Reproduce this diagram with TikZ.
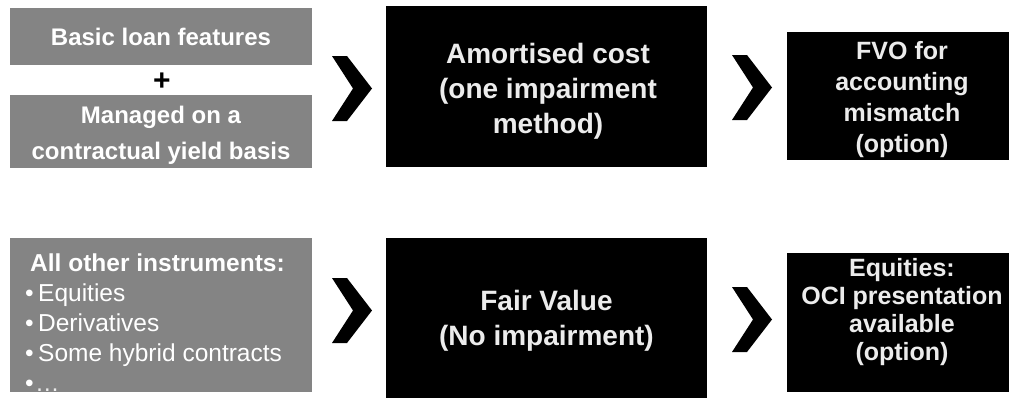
\documentclass[tikz,border=0pt]{standalone}
\usepackage{fontspec}
\setmainfont{Liberation Sans}
\definecolor{boxgray}{RGB}{132,132,132}
\definecolor{boxtext}{RGB}{236,236,236}
\tikzset{
  graybox/.style={fill=boxgray, draw=none, inner sep=0pt, anchor=center},
  blackbox/.style={fill=black, draw=none, inner sep=0pt, anchor=center},
  graytext/.style={text=white, inner sep=0pt, align=center, font=\bfseries\fontsize{24}{36}\selectfont},
  listtext/.style={text=white, inner sep=0pt, align=left, anchor=west, font=\fontsize{24.5}{30}\selectfont},
  midtext/.style={text=boxtext, inner sep=0pt, align=center, font=\bfseries\fontsize{28}{35}\selectfont},
  righttext/.style={text=boxtext, inner sep=0pt, align=center, font=\bfseries\fontsize{25}{31}\selectfont},
  chev/.pic={\fill[black] (0,0) -- (15,0) -- (40,32.5) -- (15,65) -- (0,65) -- (21,32.5) -- cycle;}
}
\begin{document}
\begin{tikzpicture}[x=1pt, y=-1pt]
\useasboundingbox (0,0) rectangle (1009,400);
% top row
\node[graybox, minimum width=302pt, minimum height=57pt] (g1) at (161,36.5) {};
\node[graytext] (g1t) at (g1.center) {Basic loan features};
\node[font=\bfseries\fontsize{30}{30}\selectfont, inner sep=0pt] (plus) at (162,82) {+};
\node[graybox, minimum width=302pt, minimum height=73pt] (g2) at (161,131.5) {};
\node[graytext] (g2t) at (161,135) {Managed on a\\contractual yield basis};
\pic at (332,56) {chev};
\node[blackbox, minimum width=321pt, minimum height=161pt] (b1) at (546.5,86.5) {};
\node[midtext] (b1t) at (548,91) {Amortised cost\\(one impairment\\method)};
\pic at (732,55) {chev};
\node[blackbox, minimum width=222pt, minimum height=128pt] (r1) at (898,96) {};
\node[righttext] (r1t) at (902,100) {FVO for\\accounting\\mismatch\\(option)};
% bottom row
\node[graybox, minimum width=302pt, minimum height=154pt] (g3) at (161,315) {};
\node[listtext] (g3t) at (25,323) {\hspace*{5pt}\textbf{All other instruments:}\\
\makebox[13pt][l]{\textbullet}Equities\\
\makebox[13pt][l]{\textbullet}Derivatives\\
\makebox[13pt][l]{\textbullet}Some hybrid contracts\\
\makebox[10pt][l]{\textbullet}{\color{boxtext}\ldots}};
\pic at (332,278) {chev};
\node[blackbox, minimum width=321pt, minimum height=160pt] (b2) at (546.5,318) {};
\node[midtext] (b2t) at (546.5,321) {Fair Value\\(No impairment)};
\pic at (732,287) {chev};
\node[blackbox, minimum width=222pt, minimum height=139pt] (r2) at (898,322.5) {};
\node[righttext, font=\bfseries\fontsize{25}{28}\selectfont] (r2t) at (902,312) {Equities:\\OCI presentation\\available\\(option)};
\end{tikzpicture}
\end{document}
